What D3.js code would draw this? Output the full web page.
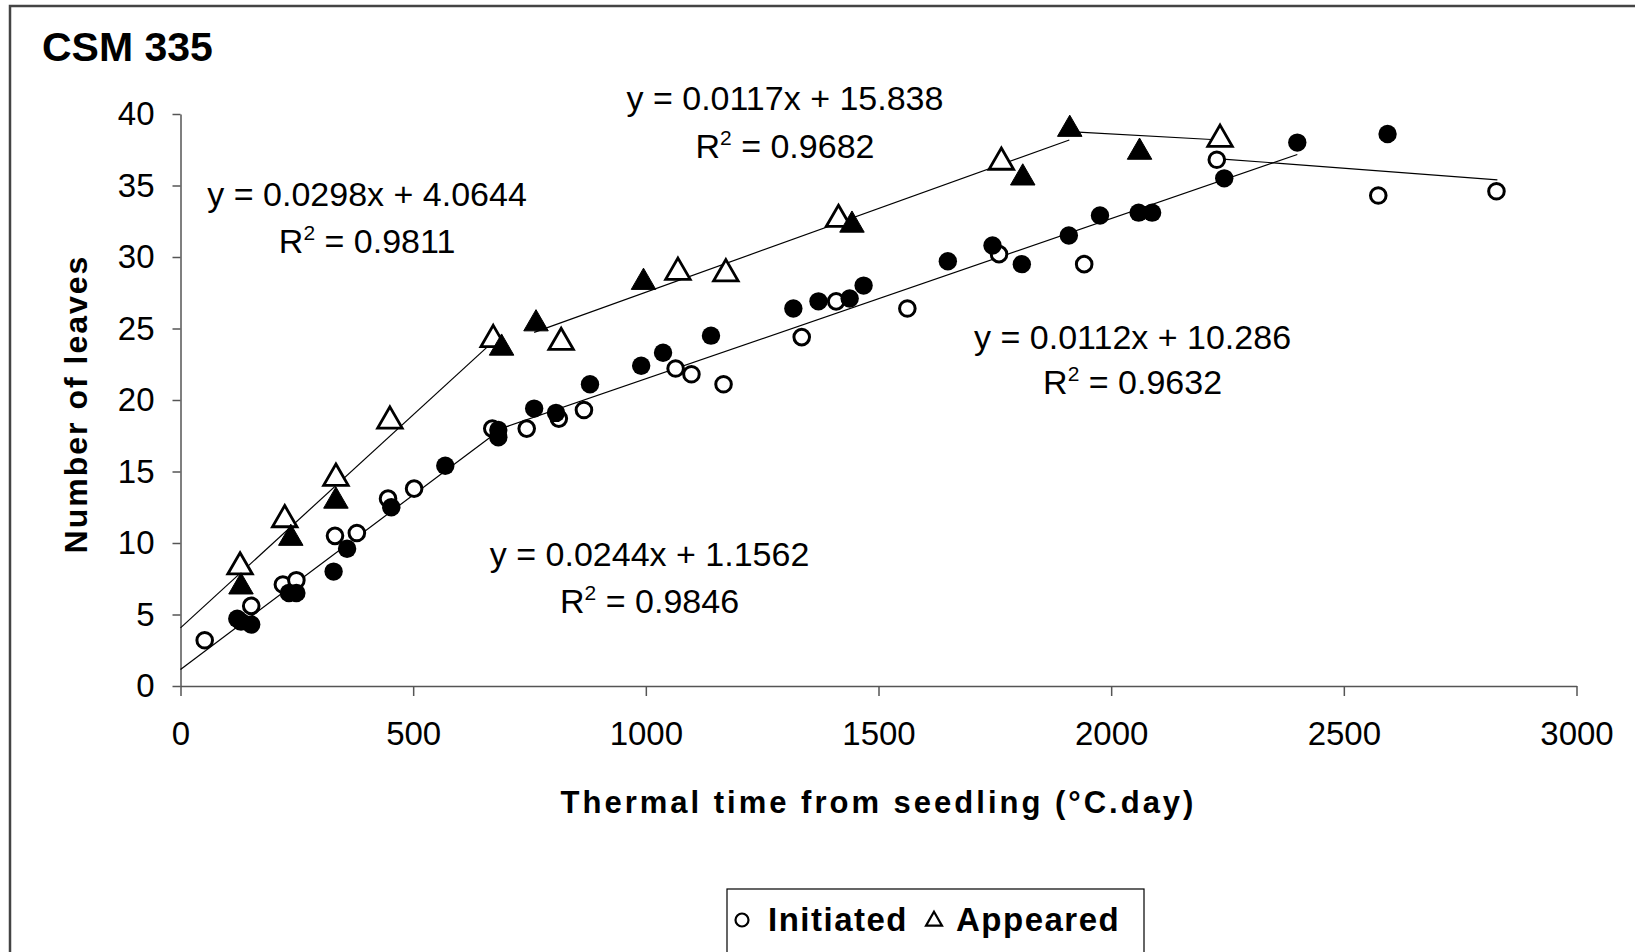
<!DOCTYPE html>
<html>
<head>
<meta charset="utf-8">
<script src="https://cdn.jsdelivr.net/npm/d3@7"></script>
<style>
  body { margin: 0; background: #fff; }
  svg text { font-family: "Liberation Sans", Arial, sans-serif; fill: #000; }
  .axis path, .axis line { stroke: #555; stroke-width: 1.5; }
  .axis text { font-size: 33px; }
</style>
</head>
<body>
<div id="chart"></div>
<script>
// thermal time (°C.day), number of leaves
var initiatedOpen = [
  [52, 3.2], [152, 5.6], [220, 7.1], [249, 7.4], [332, 10.5], [379, 10.7],
  [446, 13.1], [502, 13.8], [670, 18.0], [744, 18.0], [813, 18.7], [867, 19.3],
  [1064, 22.2], [1098, 21.8], [1167, 21.1], [1335, 24.4], [1409, 26.9],
  [1562, 26.4], [1759, 30.2], [1942, 29.5], [2227, 36.8], [2574, 34.3], [2828, 34.6]
];
var initiatedFilled = [
  [122, 4.7], [130, 4.5], [152, 4.3], [233, 6.5], [249, 6.5], [329, 8.0], [358, 9.6],
  [453, 12.5], [569, 15.4], [683, 17.9], [683, 17.4], [760, 19.4], [807, 19.1],
  [880, 21.1], [990, 22.4], [1037, 23.3], [1140, 24.5], [1317, 26.4], [1371, 26.9],
  [1438, 27.1], [1468, 28.0], [1649, 29.7], [1745, 30.8], [1808, 29.5], [1909, 31.5],
  [1976, 32.9], [2059, 33.1], [2088, 33.1], [2243, 35.5], [2400, 38.0], [2594, 38.6]
];
var appearedOpen = [
  [128, 8.4], [224, 11.7], [334, 14.6], [450, 18.6], [672, 24.3], [818, 24.1],
  [1069, 29.0], [1172, 28.9], [1414, 32.7], [1764, 36.7], [2234, 38.3]
];
var appearedFilled = [
  [130, 7.0], [237, 10.4], [334, 13.0], [690, 23.7], [764, 25.4], [995, 28.3],
  [1443, 32.3], [1810, 35.6], [1911, 39.0], [2061, 37.4]
];

// fitted lines: slope, intercept, x range
var fitSlopes = [0.0298, 0.0117, 0.0244, 0.0112];
var fitIntercepts = [4.0644, 15.838, 1.1562, 10.286];
var fitRanges = [[0, 680], [760, 1910], [0, 680], [680, 2400]];
var fitR2 = ["0.9811", "0.9682", "0.9846", "0.9632"];
// label anchor (data units): centre x, baseline of the equation, baseline of R²
var labelX = [401, 1299, 1008, 2046];
var labelY = [33.6, 40.3, 8.4, 23.6];
var labelR2Y = [30.3, 36.9, 5.1, 20.4];

// last plateau segments (no equation shown)
var plateauAppeared = [[1920, 38.75], [2225, 38.2]];
var plateauInitiated = [[2240, 36.85], [2830, 35.4]];

var xTicks = [0, 500, 1000, 1500, 2000, 2500, 3000];
var yTicks = [0, 5, 10, 15, 20, 25, 30, 35, 40];

var width = 1635, height = 952;
var svg = d3.select("#chart").append("svg")
  .attr("width", width)
  .attr("height", height);

// outer frame (only top and left visible)
svg.append("path")
  .attr("d", "M10,960 L10,6 L1640,6")
  .attr("fill", "none")
  .attr("stroke", "#444")
  .attr("stroke-width", 2.5);

var x = d3.scaleLinear().domain([0, 3000]).range([180.5, 1576.5]);
var y = d3.scaleLinear().domain([0, 40]).range([686, 114]);

svg.append("g")
  .attr("class", "axis")
  .attr("transform", "translate(0," + y(0) + ")")
  .call(d3.axisBottom(x).tickValues(xTicks).tickFormat(d3.format("d"))
    .tickSize(10).tickSizeOuter(0).tickPadding(26));

svg.append("g")
  .attr("class", "axis")
  .attr("transform", "translate(" + x(0) + ",0)")
  .call(d3.axisLeft(y).tickValues(yTicks).tickFormat(d3.format("d"))
    .tickSize(8).tickSizeOuter(0).tickPadding(18));

// title and axis labels
svg.append("text")
  .attr("x", 42).attr("y", 61)
  .style("font-size", "41px").style("font-weight", "bold")
  .text("CSM 335");

svg.append("text")
  .attr("x", (x(0) + x(3000)) / 2).attr("y", 813)
  .attr("text-anchor", "middle")
  .style("font-size", "31px").style("font-weight", "bold")
  .style("letter-spacing", "3px")
  .text("Thermal time from seedling (°C.day)");

svg.append("text")
  .attr("transform", "translate(87,404) rotate(-90)")
  .attr("text-anchor", "middle")
  .style("font-size", "32px").style("font-weight", "bold")
  .style("letter-spacing", "2px")
  .text("Number of leaves");

// trend lines
var line = d3.line().x(function (d) { return x(d[0]); }).y(function (d) { return y(d[1]); });
fitSlopes.forEach(function (s, i) {
  var pts = fitRanges[i].map(function (v) { return [v, s * v + fitIntercepts[i]]; });
  svg.append("path").datum(pts)
    .attr("d", line).attr("fill", "none")
    .attr("stroke", "#000").attr("stroke-width", 1.2);
});
[plateauAppeared, plateauInitiated].forEach(function (seg) {
  svg.append("path").datum(seg)
    .attr("d", line).attr("fill", "none")
    .attr("stroke", "#000").attr("stroke-width", 1.2);
});

// markers
var tri = d3.symbol().type(d3.symbolTriangle).size(260);
function drawTriangles(data, filled) {
  svg.append("g").selectAll("path")
    .data(data).enter().append("path")
    .attr("d", tri)
    .attr("transform", function (d) { return "translate(" + x(d[0]) + "," + (y(d[1]) + 1) + ")"; })
    .attr("fill", filled ? "#000" : "#fff")
    .attr("stroke", "#000")
    .attr("stroke-width", filled ? 1 : 2.8);
}
function drawCircles(data, filled) {
  svg.append("g").selectAll("circle")
    .data(data).enter().append("circle")
    .attr("cx", function (d) { return x(d[0]); })
    .attr("cy", function (d) { return y(d[1]); })
    .attr("r", filled ? 9.2 : 7.8)
    .attr("fill", filled ? "#000" : "#fff")
    .attr("stroke", "#000")
    .attr("stroke-width", filled ? 0 : 3);
}
drawCircles(initiatedOpen, false);
drawCircles(initiatedFilled, true);
drawTriangles(appearedOpen, false);
drawTriangles(appearedFilled, true);

// equation labels
fitSlopes.forEach(function (s, i) {
  svg.append("text")
    .attr("x", x(labelX[i])).attr("y", y(labelY[i]))
    .attr("text-anchor", "middle")
    .style("font-size", "34px")
    .text("y = " + s + "x + " + fitIntercepts[i]);
  var r = svg.append("text")
    .attr("x", x(labelX[i])).attr("y", y(labelR2Y[i]))
    .attr("text-anchor", "middle")
    .style("font-size", "34px");
  r.append("tspan").text("R");
  r.append("tspan").attr("dy", -13).style("font-size", "21px").text("2");
  r.append("tspan").attr("dy", 13).text(" = " + fitR2[i]);
});

// legend
var lg = svg.append("g");
lg.append("rect")
  .attr("x", 727).attr("y", 889).attr("width", 417).attr("height", 80)
  .attr("fill", "#fff").attr("stroke", "#000").attr("stroke-width", 1.2);
lg.append("circle")
  .attr("cx", 742).attr("cy", 920).attr("r", 6.5)
  .attr("fill", "#fff").attr("stroke", "#000").attr("stroke-width", 2.2);
lg.append("text")
  .attr("x", 768).attr("y", 931)
  .style("font-size", "33px").style("font-weight", "bold").style("letter-spacing", "1.5px")
  .text("Initiated");
lg.append("path")
  .attr("d", d3.symbol().type(d3.symbolTriangle).size(110))
  .attr("transform", "translate(934,921)")
  .attr("fill", "#fff").attr("stroke", "#000").attr("stroke-width", 2.2);
lg.append("text")
  .attr("x", 956).attr("y", 931)
  .style("font-size", "33px").style("font-weight", "bold").style("letter-spacing", "1.5px")
  .text("Appeared");
</script>
</body>
</html>
